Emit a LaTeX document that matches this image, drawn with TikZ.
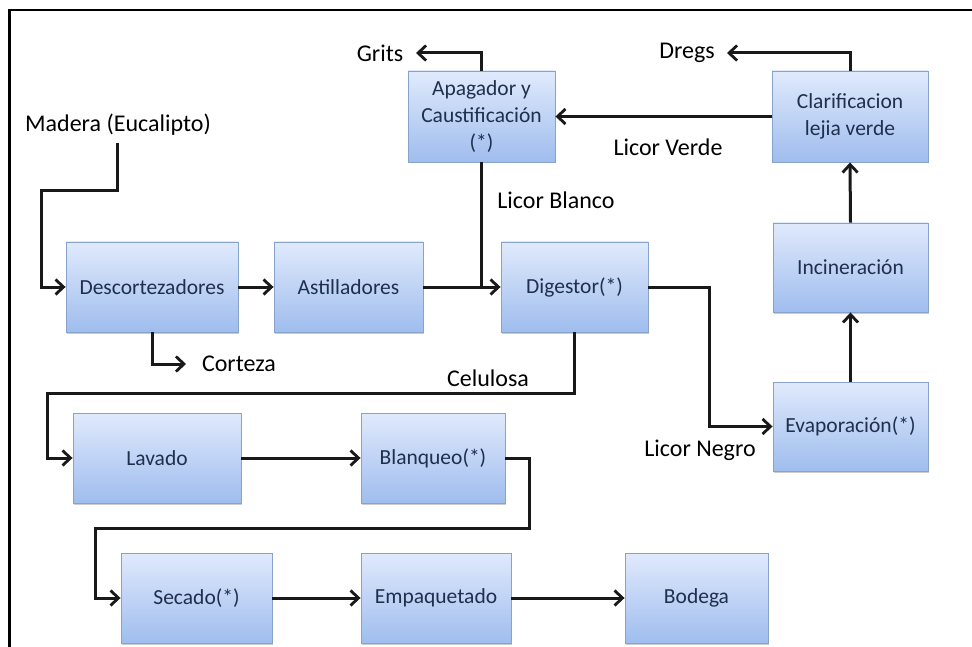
\documentclass[tikz,border=0pt]{standalone}
\usepackage{fontspec}
\setmainfont{Carlito}
\usetikzlibrary{arrows.meta,shadows}
\definecolor{boxtop}{HTML}{E0EAFC}
\definecolor{boxbot}{HTML}{9FBDEE}
\definecolor{boxline}{HTML}{88A3CA}
\definecolor{boxtext}{HTML}{1F2F4C}
\tikzset{
  box/.style={rectangle, draw=boxline, line width=0.9pt, top color=boxtop, bottom color=boxbot,
    text=boxtext, align=center, inner sep=2pt,
    font=\fontsize{21.5}{27}\selectfont,
    drop shadow={shadow xshift=1.2pt, shadow yshift=-1.5pt, fill=black, opacity=0.2}},
  lbl/.style={inner sep=0pt, text=black, font=\fontsize{24}{28}\selectfont},
  conn/.style={line width=3pt, draw=black!90},
  arr/.style={conn, -{Straight Barb[length=8pt,width=15pt,line width=2.8pt]}},
}
\begin{document}
\begin{tikzpicture}[x=1pt,y=-1pt]
\useasboundingbox (0,0) rectangle (972,647);
\fill[white] (0,0) rectangle (972,647);
% frame
\draw[line width=2.2pt] (9.5,647) -- (9.5,10) -- (972,10);

% boxes
\node[box, minimum width=172pt, minimum height=90pt] (desc) at (152,287) {Descortezadores};
\node[box, minimum width=149pt, minimum height=90pt] (asti) at (348.5,287) {Astilladores};
\node[box, minimum width=147pt, minimum height=90pt] (dig) at (574.5,287) {Digestor(*)};
\node[box, minimum width=147pt, minimum height=91pt] (apag) at (481.5,116.5) {Apagador y\\Caustificación\\(*)};
\node[box, minimum width=156pt, minimum height=91pt] (clar) at (850,116.5) {Clarificacion\\lejia verde};
\node[box, minimum width=155pt, minimum height=89pt] (inc) at (850.5,267.5) {Incineración};
\node[box, minimum width=155pt, minimum height=89pt] (evap) at (850.5,426.5) {Evaporación(*)};
\node[box, minimum width=168pt, minimum height=90pt] (lav) at (157,458) {Lavado};
\node[box, minimum width=144pt, minimum height=90pt] (blan) at (433,458) {Blanqueo(*)};
\node[box, minimum width=151pt, minimum height=90pt] (sec) at (196.5,598) {Secado(*)};
\node[box, minimum width=150pt, minimum height=90pt] (emp) at (436,598) {Empaquetado};
\node[box, minimum width=143pt, minimum height=90pt] (bod) at (696.5,598) {Bodega};

% labels
\node[lbl] (mad) at (118,125) {Madera (Eucalipto)};
\node[lbl] (cort) at (239,364) {Corteza};
\node[lbl] (grits) at (380,53) {Grits};
\node[lbl] (dregs) at (687,53) {Dregs};
\node[lbl] (lverde) at (668,147) {Licor Verde};
\node[lbl] (lblanco) at (556,200) {Licor Blanco};
\node[lbl] (celu) at (488,378) {Celulosa};
\node[lbl] (lnegro) at (700,450) {Licor Negro};

% helper coordinates
\coordinate (m0) at (117,143);
\coordinate (m1) at (41,191);
\coordinate (dn) at (709,0);
\coordinate (c1) at (47,393);
\coordinate (b1) at (529,528);
\coordinate (b2) at (95,528);
\coordinate (gt) at (416,53);
\coordinate (dt) at (727,53);
\coordinate (ct) at (186,364);

% connectors
\draw[arr] (m0) |- (m1) |- (desc.west);
\draw[arr] (desc.east) -- (asti.west);
\draw[arr] (desc.south) |- (ct);
\draw[arr] (asti.east) -- (dig.west);
\draw[conn] (apag.south) -- (apag.south |- dig.west);
\draw[arr] (dig.east) -- (dig.east -| dn) |- (evap.west);
\draw[arr] (dig.south) |- (c1) |- (lav.west);
\draw[arr] (lav.east) -- (blan.west);
\draw[arr] (blan.east) -| (b1) -- (b2) |- (sec.west);
\draw[arr] (sec.east) -- (emp.west);
\draw[arr] (emp.east) -- (bod.west);
\draw[arr] (evap.north) -- (inc.south);
\draw[arr] (inc.north) -- (clar.south);
\draw[arr] (clar.west) -- (apag.east);
\draw[arr] (apag.north) |- (gt);
\draw[arr] (clar.north) |- (dt);
\end{tikzpicture}
\end{document}
